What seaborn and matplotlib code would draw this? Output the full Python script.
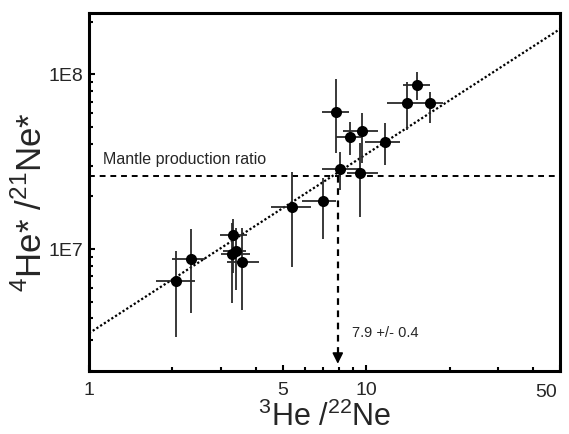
import numpy as np
import pandas as pd
import matplotlib
matplotlib.use("Agg")
import matplotlib.pyplot as plt
import seaborn as sns
from matplotlib.ticker import LogLocator, NullFormatter, FixedLocator, FixedFormatter

# 3He/22Ne (x) and 4He*/21Ne* (y) with error bar ends
he3_ne22 = [2.06, 2.33, 3.31, 3.28, 3.39, 3.56, 5.40, 6.99, 7.78, 8.05, 8.74, 9.66, 9.50, 11.69, 14.03, 15.25, 17.0]
x_low = [1.75, 1.99, 2.97, 2.99, 3.05, 3.15, 4.54, 5.87, 6.93, 6.93, 7.78, 8.25, 8.52, 9.90, 11.89, 13.58, 15.25]
x_high = [2.41, 2.62, 3.72, 3.81, 3.70, 4.10, 6.32, 7.80, 8.67, 9.50, 9.66, 11.03, 11.03, 13.24, 15.25, 17.0, 18.9]
he4_ne21 = [6.55e6, 8.76e6, 1.20e7, 9.36e6, 9.74e6, 8.42e6, 1.74e7, 1.89e7, 6.12e7, 2.88e7,
            4.41e7, 4.77e7, 2.74e7, 4.12e7, 6.90e7, 8.65e7, 6.90e7]
y_low = [3.12e6, 4.28e6, 7.28e6, 4.90e6, 5.81e6, 4.46e6, 7.88e6, 1.14e7, 3.57e7, 2.18e7,
         3.47e7, 3.12e7, 1.53e7, 3.04e7, 4.83e7, 7.18e7, 5.30e7]
y_high = [9.74e6, 1.30e7, 1.49e7, 1.41e7, 1.32e7, 1.32e7, 2.77e7, 2.56e7, 9.36e7, 3.60e7,
          5.37e7, 6.05e7, 4.06e7, 5.30e7, 9.00e7, 1.04e8, 7.98e7]

# reference line and mantle production ratio
fit_x = [1, 50]
fit_y = [3.29e6, 1.82e8]
mantle_ratio = 2.63e7
intercept_x = 7.9

df = pd.DataFrame({"x": he3_ne22, "y": he4_ne21})

sns.set_theme(style="ticks")
plt.rcParams["font.family"] = ["Liberation Sans", "DejaVu Sans"]
plt.rcParams["mathtext.fontset"] = "custom"
plt.rcParams["mathtext.rm"] = "Liberation Sans"

fig = plt.figure(figsize=(5.69, 4.34), dpi=100)
ax = fig.add_axes([0.1564, 0.1452, 0.8276, 0.8248])
ax.set_xscale("log")
ax.set_yscale("log")

ax.errorbar(he3_ne22, he4_ne21,
            xerr=[np.array(he3_ne22) - np.array(x_low), np.array(x_high) - np.array(he3_ne22)],
            yerr=[np.array(he4_ne21) - np.array(y_low), np.array(y_high) - np.array(he4_ne21)],
            fmt="none", ecolor="#2a2a2a", elinewidth=1.3, capsize=0, zorder=2)
sns.scatterplot(data=df, x="x", y="y", ax=ax, color="black", s=64, edgecolor="black",
                linewidth=0, zorder=3)

sns.lineplot(x=fit_x, y=fit_y, ax=ax, color="black", linestyle=(0, (1, 1)), linewidth=1.6, zorder=1)

ax.axhline(mantle_ratio, color="black", linestyle=(0, (3, 2.5)), linewidth=1.4, zorder=1)
ax.plot([intercept_x, intercept_x], [mantle_ratio, 2.5e6], color="black",
        linestyle=(0, (3, 2.5)), linewidth=1.6, zorder=1)
ax.annotate("", xy=(intercept_x, 2.12e6), xytext=(intercept_x, 2.5e6),
            arrowprops=dict(arrowstyle="-|>", color="black", lw=1.2, mutation_scale=16))

ax.text(1.12, 3.25e7, "Mantle production ratio", fontsize=11.5, ha="left", va="center")
ax.text(8.9, 3.3e6, "7.9 +/- 0.4", fontsize=10.5, ha="left", va="center")

ax.set_xlim(1, 50)
ax.set_ylim(2.0e6, 2.25e8)

ax.xaxis.set_major_locator(FixedLocator([1, 5, 10, 50]))
ax.xaxis.set_major_formatter(FixedFormatter(["1", "5", "10", ""]))
ax.xaxis.set_minor_locator(LogLocator(base=10, subs=np.arange(2, 10)))
ax.xaxis.set_minor_formatter(NullFormatter())
ax.yaxis.set_major_locator(FixedLocator([1e7, 1e8]))
ax.yaxis.set_major_formatter(FixedFormatter(["1E7", "1E8"]))
ax.yaxis.set_minor_locator(LogLocator(base=10, subs=np.arange(2, 10)))
ax.yaxis.set_minor_formatter(NullFormatter())

ax.tick_params(which="both", direction="in", color="black", labelsize=14, width=1.5)
ax.tick_params(which="major", length=4)
ax.tick_params(which="minor", length=3)
ax.tick_params(axis="x", pad=8)
ax.tick_params(axis="y", pad=4)

# the "50" label sits just inside the right edge in the original
ax.text(0.994, -0.037, "50", transform=ax.transAxes, ha="right", va="top", fontsize=14)

for sp in ax.spines.values():
    sp.set_visible(True)
    sp.set_linewidth(2.2)
    sp.set_color("black")

ax.set_xlabel(r"$^{3}$He /$^{22}$Ne", fontsize=22, labelpad=2)
ax.set_ylabel(r"$^{4}$He* /$^{21}$Ne*", fontsize=25)
ax.yaxis.set_label_coords(-0.085, 0.472)

fig.savefig("out.png", dpi=100)
